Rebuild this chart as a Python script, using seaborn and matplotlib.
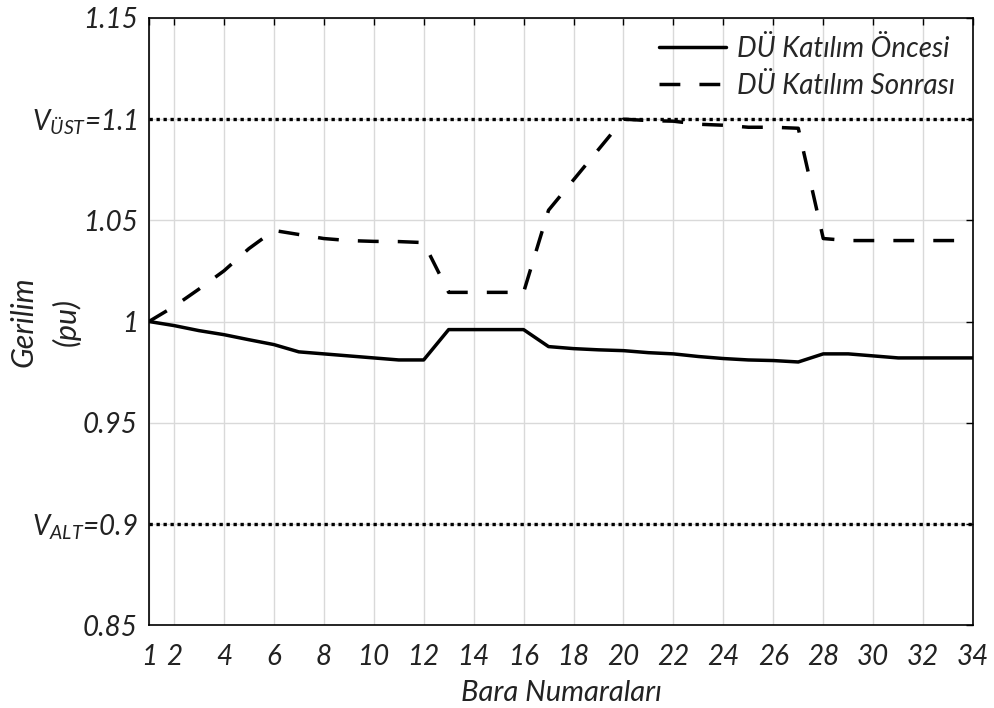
import matplotlib
matplotlib.use("Agg")
import matplotlib.pyplot as plt
import seaborn as sns
import pandas as pd

# Bus voltages (pu) for buses 1..34
buses = list(range(1, 35))
v_before = [1.000, 0.998, 0.9955, 0.9935, 0.991, 0.9886, 0.985, 0.984, 0.983, 0.982,
            0.981, 0.981, 0.996, 0.996, 0.996, 0.996, 0.9876, 0.9866, 0.986, 0.9856,
            0.9846, 0.984, 0.9827, 0.9817, 0.981, 0.9807, 0.980, 0.984, 0.984, 0.983,
            0.982, 0.982, 0.982, 0.982]
v_after = [1.000, 1.0074, 1.016, 1.025, 1.036, 1.045, 1.043, 1.041, 1.040, 1.0396,
           1.0395, 1.039, 1.0144, 1.0144, 1.0144, 1.0144, 1.055, 1.070, 1.085, 1.100,
           1.0993, 1.099, 1.0975, 1.097, 1.096, 1.096, 1.0955, 1.041, 1.040, 1.040,
           1.040, 1.040, 1.040, 1.040]
v_upper = 1.1
v_lower = 0.9

x_ticks = [1, 2, 4, 6, 8, 10, 12, 14, 16, 18, 20, 22, 24, 26, 28, 30, 32, 34]
y_ticks = [0.85, 0.9, 0.95, 1.0, 1.05, 1.1, 1.15]
y_ticklabels = ["0.85", r"V$_{\mathrm{ALT}}$=0.9", "0.95", "1", "1.05",
                r"V$_{\mathrm{ÜST}}$=1.1", "1.15"]

label_before = "DÜ Katılım Öncesi"
label_after = "DÜ Katılım Sonrası"

sns.set_theme(style="white")
plt.rcParams["font.family"] = ["Lato", "DejaVu Sans"]
plt.rcParams["font.style"] = "italic"
plt.rcParams["mathtext.fontset"] = "custom"
plt.rcParams["mathtext.rm"] = "Lato:italic"
plt.rcParams["mathtext.it"] = "Lato:italic"
plt.rcParams["mathtext.default"] = "rm"

df = pd.DataFrame({"bus": buses * 2,
                   "voltage": v_before + v_after,
                   "case": [label_before] * len(buses) + [label_after] * len(buses)})

fig = plt.figure(figsize=(9.95, 7.08), dpi=100)
ax = fig.add_axes([0.1497, 0.1172, 0.8283, 0.8574])

ax.axhline(v_upper, color="black", lw=2.4, ls=(0, (1, 1.1)), zorder=2)
ax.axhline(v_lower, color="black", lw=2.4, ls=(0, (1, 1.1)), zorder=2)

sns.lineplot(data=df, x="bus", y="voltage", style="case",
             style_order=[label_before, label_after],
             dashes={label_before: "", label_after: (6, 5.5)},
             color="black", linewidth=2.5, ax=ax, zorder=3)

ax.set_xlim(1, 34)
ax.set_ylim(0.85, 1.15)
ax.set_xticks(x_ticks)
ax.set_xticklabels([str(t) for t in x_ticks])
ax.set_yticks(y_ticks)
ax.set_yticklabels(y_ticklabels)
ax.tick_params(axis="both", which="both", direction="in", length=5, width=1,
               labelsize=20, colors="black", top=True, right=True)
ax.tick_params(axis="x", pad=14)
ax.tick_params(axis="y", pad=8)
for lbl in ax.get_xticklabels() + ax.get_yticklabels():
    lbl.set_color("#222222")

ax.grid(True, color="#d9d9d9", lw=1)
for s in ax.spines.values():
    s.set_color("black")
    s.set_linewidth(1.2)

ax.set_xlabel("Bara Numaraları", fontsize=21, color="#222222", labelpad=7)
ax.set_ylabel("Gerilim\n(pu)", fontsize=22, color="#222222", va="center",
              linespacing=1.55)
ax.yaxis.set_label_coords(-0.126, 0.5)

leg = ax.legend(loc="upper right", frameon=False, fontsize=20, handlelength=2.4,
                borderaxespad=0.25, labelspacing=0.4, handletextpad=0.4)
for h in leg.get_lines():
    h.set_color("black")
    h.set_linewidth(2.5)

fig.savefig("out.png", dpi=100, facecolor="white")
